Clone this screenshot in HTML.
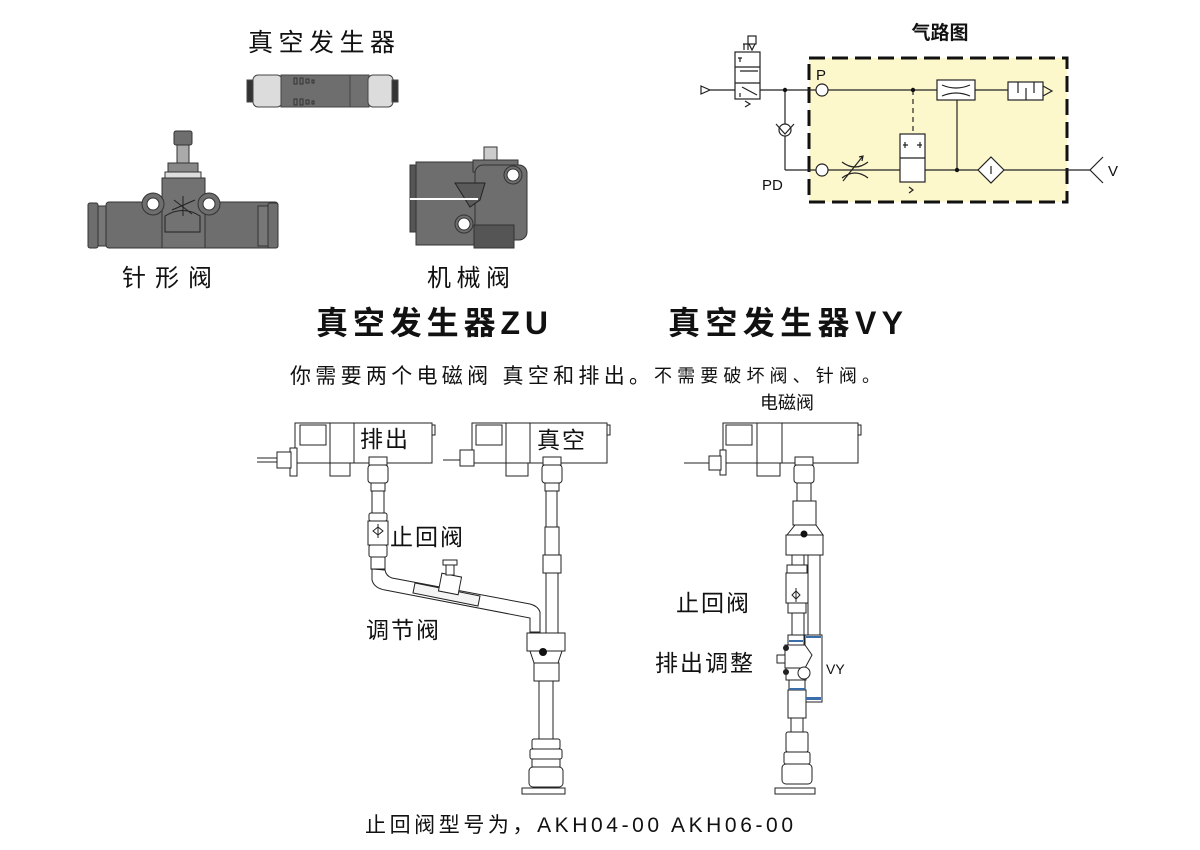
<!DOCTYPE html>
<html><head><meta charset="utf-8">
<style>
html,body{margin:0;padding:0;background:#fff;}
svg{display:block;}
text{font-family:"Liberation Sans","Noto Sans CJK SC",sans-serif;fill:#111;}
</style></head>
<body>
<svg width="1200" height="850" viewBox="0 0 1200 850" xmlns="http://www.w3.org/2000/svg">
<text x="248" y="51" font-size="25" textLength="147" lengthAdjust="spacing">真空发生器</text>
<g stroke="#444" stroke-width="1">
<rect x="247" y="80" width="6" height="22" fill="#333"/>
<rect x="253" y="75" width="29" height="32" rx="5" fill="#dcdcdc"/>
<rect x="281" y="75" width="70" height="32" fill="#6e6e6e"/>
<rect x="350" y="75" width="19" height="32" fill="#707070"/>
<rect x="368" y="75" width="25" height="32" rx="5" fill="#dcdcdc"/>
<rect x="392" y="80" width="6" height="22" fill="#333"/>
</g>
<g fill="none" stroke="#333" stroke-width="1">
<rect x="294" y="78" width="3" height="6"/><rect x="300" y="78" width="3" height="6"/><rect x="306" y="79" width="3" height="4"/><rect x="312" y="80" width="2" height="3"/>
<rect x="294" y="99" width="3" height="6"/><rect x="300" y="99" width="3" height="6"/><rect x="306" y="100" width="3" height="4"/><rect x="312" y="101" width="2" height="3"/>
</g>
<g stroke="#333" stroke-width="1">
<rect x="174" y="131" width="18" height="14" rx="2" fill="#6e6e6e"/>
<rect x="177" y="145" width="12" height="20" fill="#aaa"/>
<rect x="168" y="163" width="30" height="9" fill="#888"/>
<rect x="165" y="172" width="36" height="6" fill="#ddd"/>
<rect x="88" y="203" width="10" height="45" rx="2" fill="#6e6e6e"/>
<rect x="98" y="206" width="8" height="40" fill="#777"/>
<rect x="106" y="202" width="172" height="46" rx="3" fill="#6e6e6e"/>
<rect x="162" y="178" width="43" height="70" fill="#727272"/>
<rect x="258" y="206" width="10" height="40" fill="#777"/>
<rect x="268" y="203" width="10" height="45" rx="2" fill="#6e6e6e"/>
<circle cx="153" cy="204" r="11" fill="#6e6e6e"/><circle cx="153" cy="204" r="6" fill="#fff"/>
<circle cx="209" cy="204" r="11" fill="#6e6e6e"/><circle cx="209" cy="204" r="6" fill="#fff"/>
</g>
<g stroke="#222" stroke-width="1" fill="none"><path d="M172 210 L195 200 M183 196 L183 216 M174 200 L192 214"/><path d="M165 232 L165 216 Q183 205 200 216 L200 232 Z"/></g>
<text x="122" y="286" font-size="24" textLength="90" lengthAdjust="spacing">针形阀</text>
<g stroke="#333" stroke-width="1">
<rect x="484" y="147" width="13" height="13" fill="#ccc"/>
<rect x="410" y="165" width="7" height="67" fill="#555"/>
<rect x="416" y="162" width="62" height="83" fill="#6e6e6e"/>
<rect x="473" y="160" width="45" height="12" fill="#6e6e6e"/>
<rect x="475" y="165" width="52" height="75" rx="8" fill="#6e6e6e"/>
<rect x="474" y="225" width="40" height="23" fill="#555"/>
<circle cx="513" cy="175" r="9" fill="#6e6e6e"/><circle cx="513" cy="175" r="6" fill="#fff"/>
<circle cx="464" cy="224" r="9" fill="#6e6e6e"/><circle cx="464" cy="224" r="6" fill="#fff"/>
</g>
<path d="M455 183 L485 183 L480 200 L470 207 Z" fill="#5a5a5a" stroke="#222"/>
<line x1="410" y1="199" x2="478" y2="199" stroke="#fff" stroke-width="2"/>
<text x="427" y="286" font-size="24" textLength="83" lengthAdjust="spacing">机械阀</text>

<text x="940" y="39" font-size="19" text-anchor="middle" font-weight="bold">气路图</text>
<rect x="809" y="58" width="258" height="144" fill="#fdf8cc"/>
<rect x="809" y="58" width="258" height="144" fill="none" stroke="#111" stroke-width="3" stroke-dasharray="16,7"/>
<g stroke="#222" stroke-width="1.2" fill="none">
<path d="M701 86 L710 90 L701 94 Z"/>
<line x1="710" y1="90" x2="816" y2="90"/>
<line x1="828" y1="90" x2="937" y2="90"/>
<line x1="975" y1="90" x2="1008" y2="90"/>
<rect x="735" y="52" width="25" height="47" fill="#fff"/>
<line x1="735" y1="67" x2="760" y2="67"/><line x1="735" y1="83" x2="760" y2="83"/>
<path d="M740 58 L740 62 M738 58 L742 58 M740 71 L758 71 M742 87 L757 95 M740 93 L740 97"/>
<path d="M744 44 L744 50 M748 44 L748 50 M743 44 L749 44"/><rect x="748" y="36" width="8" height="8" fill="#fff"/><path d="M749 44 L752 50 L755 44"/>
<path d="M745 101 L750 104 L745 107"/>
<line x1="785" y1="90" x2="785" y2="170"/><line x1="785" y1="170" x2="816" y2="170"/>
<circle cx="785" cy="130" r="6" fill="#fff"/><path d="M776 124 L785 134 L794 124"/>
<circle cx="822" cy="90" r="6" fill="#fff"/><circle cx="822" cy="170" r="6" fill="#fff"/>
<line x1="828" y1="170" x2="985" y2="170"/><line x1="998" y1="170" x2="1090" y2="170"/>
<path d="M842 162 Q855 172 868 162 M842 178 Q855 168 868 178 M843 181 L863 156 M859 157 L863 156 L862 161"/>
<line x1="913" y1="90" x2="913" y2="134" stroke-dasharray="5,4"/>
<rect x="900" y="134" width="25" height="48" fill="#fff"/><line x1="900" y1="158" x2="925" y2="158"/>
<path d="M903 145 L908 145 M905 142 L905 148 M922 145 L917 145 M920 142 L920 148"/>
<path d="M909 187 L913 190 L909 193"/>
<rect x="937" y="80" width="38" height="20" fill="#fff"/>
<path d="M942 85 Q956 91 970 85 M942 96 Q956 90 970 96"/>
<line x1="957" y1="100" x2="957" y2="170"/>
<rect x="1008" y="82" width="35" height="18" fill="#fff"/>
<path d="M1043 86 L1052 91 L1043 96 M1018 82 L1018 93 M1026 88 L1026 100 M1034 82 L1034 93"/>
<path d="M991 157 L1004 170 L991 183 L978 170 Z" fill="#fff"/><line x1="991" y1="166" x2="991" y2="174"/>
<path d="M1103 157 L1090 170 L1103 183"/>
</g>
<circle cx="785" cy="90" r="2.2" fill="#111"/><circle cx="913" cy="90" r="2.2" fill="#111"/><circle cx="957" cy="170" r="2.2" fill="#111"/>
<text x="816" y="80" font-size="15">P</text>
<text x="762" y="190" font-size="15">PD</text>
<text x="1108" y="176" font-size="15">V</text>

<text x="316" y="334" font-size="32" font-weight="bold" textLength="232" lengthAdjust="spacing">真空发生器ZU</text>
<text x="668" y="334" font-size="32" font-weight="bold" textLength="235" lengthAdjust="spacing">真空发生器VY</text>
<text x="290" y="383" font-size="21" textLength="360" lengthAdjust="spacing">你需要两个电磁阀 真空和排出。</text>
<text x="654" y="382" font-size="18" textLength="226" lengthAdjust="spacing">不需要破坏阀、针阀。</text>

<g stroke="#222" stroke-width="1" fill="#fff">
<rect x="295" y="423" width="137" height="40"/>
<line x1="330" y1="423" x2="330" y2="476"/><line x1="354" y1="423" x2="354" y2="463"/>
<rect x="300" y="425" width="26" height="20"/>
<rect x="330" y="463" width="20" height="13"/>
<path d="M290 448 L297 448 L297 476 L290 476 Z"/>
<rect x="277" y="452" width="14" height="16"/>
<line x1="257" y1="458" x2="277" y2="458"/><line x1="257" y1="462" x2="277" y2="462"/>
<rect x="432" y="425" width="3" height="10"/>
<rect x="369" y="457" width="18" height="8"/>
<rect x="368" y="465" width="20" height="18" rx="3"/>
<rect x="371" y="483" width="14" height="8"/>
<rect x="372" y="491" width="12" height="22"/>
<rect x="369" y="513" width="18" height="8" rx="2"/>
<rect x="368" y="521" width="20" height="24"/>
<rect x="369" y="545" width="18" height="12" rx="2"/>
<rect x="371" y="557" width="14" height="12"/>
<path d="M372 569 L372 580 Q374 588 385 590 L530 618 L530 632 L540 632 L540 612 Q538 606 530 604 L392 578 Q386 576 385 570 Z"/>
<path d="M415 583 L480 596 L478 606 L413 593 Z" fill="#f4f4f4"/>
<rect x="440" y="575" width="20" height="18" transform="rotate(11 450 584)"/>
<rect x="446" y="563" width="8" height="12"/>
<rect x="443" y="560" width="14" height="5"/>
<rect x="472" y="423" width="135" height="40"/>
<line x1="506" y1="423" x2="506" y2="476"/><line x1="530" y1="423" x2="530" y2="463"/>
<rect x="476" y="425" width="26" height="20"/>
<rect x="506" y="463" width="22" height="13"/>
<rect x="460" y="450" width="14" height="16"/>
<line x1="443" y1="460" x2="460" y2="460"/>
<rect x="607" y="425" width="3" height="10"/>
<rect x="543" y="457" width="18" height="8"/>
<rect x="542" y="465" width="20" height="18" rx="3"/>
<rect x="545" y="483" width="14" height="8"/>
<rect x="546" y="491" width="11" height="36"/>
<rect x="545" y="527" width="14" height="28"/>
<rect x="543" y="555" width="18" height="18"/>
<rect x="546" y="573" width="12" height="60"/>
<rect x="527" y="633" width="38" height="18"/>
<path d="M530 651 L562 651 L558 663 L534 663 Z"/>
<rect x="534" y="663" width="25" height="18"/>
<rect x="539" y="681" width="14" height="58"/>
<rect x="532" y="739" width="28" height="10" rx="2"/>
<rect x="530" y="749" width="32" height="10" rx="2"/>
<rect x="532" y="759" width="28" height="8"/>
<rect x="529" y="767" width="34" height="20" rx="4"/>
<rect x="522" y="788" width="43" height="6"/>
</g>
<circle cx="543" cy="652" r="4" fill="#111"/>
<path d="M373 531 L378 527 L383 531 L378 535 Z M378 524 L378 538" stroke="#222" fill="none"/>
<text x="360" y="447" font-size="23" letter-spacing="2">排出</text>
<text x="537" y="448" font-size="23" letter-spacing="2">真空</text>
<text x="390" y="545" font-size="23" letter-spacing="2">止回阀</text>
<text x="366" y="638" font-size="23" letter-spacing="2">调节阀</text>

<text x="760" y="409" font-size="18">电磁阀</text>
<g stroke="#222" stroke-width="1" fill="#fff">
<rect x="723" y="423" width="135" height="40"/>
<line x1="757" y1="423" x2="757" y2="476"/><line x1="782" y1="423" x2="782" y2="463"/>
<rect x="726" y="425" width="26" height="20"/>
<rect x="757" y="463" width="23" height="13"/>
<rect x="720" y="450" width="6" height="25"/>
<rect x="709" y="456" width="12" height="14"/>
<line x1="684" y1="463" x2="709" y2="463"/>
<rect x="858" y="425" width="3" height="10"/>
<rect x="795" y="457" width="18" height="8"/>
<rect x="794" y="465" width="20" height="18" rx="3"/>
<rect x="797" y="483" width="14" height="18"/>
<rect x="793" y="501" width="23" height="24"/>
<path d="M787 535 L795 525 L816 525 L823 535 Z"/>
<rect x="786" y="535" width="37" height="20"/>
<rect x="792" y="555" width="12" height="10"/>
<rect x="787" y="565" width="20" height="8"/>
<rect x="786" y="573" width="22" height="30"/>
<rect x="788" y="603" width="18" height="10"/>
<rect x="792" y="613" width="12" height="22"/>
<rect x="808" y="555" width="12" height="80"/>
<rect x="805" y="635" width="17" height="67"/>
<rect x="788" y="635" width="16" height="10"/>
<path d="M785 645 L805 645 L812 655 L805 668 L785 668 Z"/>
<rect x="786" y="668" width="20" height="12"/>
<circle cx="804" cy="673" r="6"/>
<rect x="777" y="655" width="8" height="8"/>
<rect x="789" y="680" width="16" height="10"/>
<rect x="788" y="690" width="18" height="28"/>
<rect x="791" y="718" width="12" height="14"/>
<rect x="786" y="732" width="22" height="20" rx="2"/>
<rect x="784" y="752" width="26" height="12" rx="2"/>
<rect x="782" y="764" width="30" height="20" rx="4"/>
<rect x="775" y="788" width="40" height="6"/>
</g>
<circle cx="804" cy="534" r="3.5" fill="#111"/>
<circle cx="786" cy="648" r="3" fill="#222"/><circle cx="786" cy="672" r="3" fill="#222"/>
<g fill="#3b6ea8"><rect x="789" y="640" width="14" height="2"/><rect x="806" y="636" width="15" height="2"/><rect x="789" y="688" width="16" height="2"/><rect x="806" y="697" width="15" height="3"/></g>
<path d="M792 595 L796 591 L800 595 L796 599 Z M796 588 L796 602" stroke="#222" fill="none"/>
<text x="676" y="611" font-size="23" letter-spacing="2">止回阀</text>
<text x="655" y="671" font-size="23" letter-spacing="2">排出调整</text>
<text x="826" y="674" font-size="14">VY</text>

<text x="365" y="832" font-size="21" textLength="428" lengthAdjust="spacing">止回阀型号为，AKH04-00  AKH06-00</text>
</svg>
</body></html>
